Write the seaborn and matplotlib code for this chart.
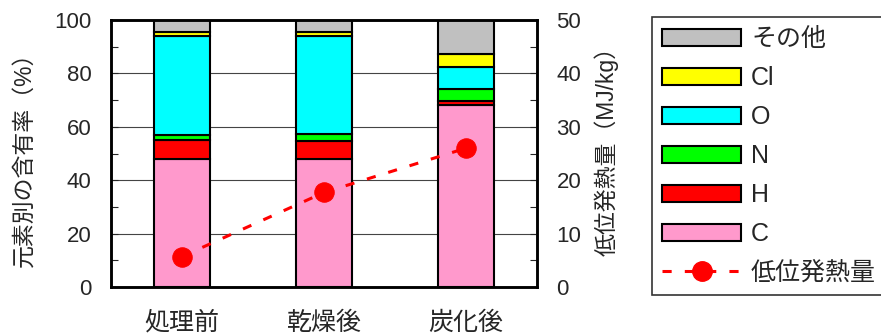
import numpy as np
import pandas as pd
import matplotlib
matplotlib.use("Agg")
import matplotlib.pyplot as plt
import seaborn as sns
from matplotlib.patches import Patch
from matplotlib.lines import Line2D
from matplotlib.ticker import MultipleLocator, FixedLocator

# --- data -------------------------------------------------------------
categories = ["処理前", "乾燥後", "炭化後"]
elements = ["C", "H", "N", "O", "Cl", "その他"]
c_pct = [48.0, 48.0, 68.3]
h_pct = [7.0, 6.5, 1.5]
n_pct = [2.1, 2.7, 4.3]
o_pct = [37.0, 36.9, 8.3]
cl_pct = [1.5, 1.5, 4.9]
other_pct = [4.4, 4.4, 12.7]
lhv_mj_kg = [5.7, 17.7, 26.0]
element_colors = ["#FF99CC", "#FF0000", "#00FF00", "#00FFFF", "#FFFF00", "#C0C0C0"]
lhv_label = "低位発熱量"

composition = pd.DataFrame(
    {"C": c_pct, "H": h_pct, "N": n_pct, "O": o_pct, "Cl": cl_pct, "その他": other_pct},
    index=categories,
)

# --- style ------------------------------------------------------------
sns.set_style("white")
plt.rcParams["font.family"] = ["Liberation Sans", "Noto Sans CJK JP", "DejaVu Sans"]
plt.rcParams["font.size"] = 16

fig = plt.figure(figsize=(8.81, 3.36), dpi=100)
ax = fig.add_axes([111 / 881, 1 - 287 / 336, 426 / 881, 267 / 336])

# stacked element bars
bottom = np.zeros(len(categories))
for el, col in zip(elements, element_colors):
    vals = composition[el].to_numpy()
    sns.barplot(x=categories, y=vals, order=categories, bottom=bottom,
                color=col, saturation=1, edgecolor="black", linewidth=1.5,
                width=0.394, errorbar=None, ax=ax, zorder=3)
    bottom = bottom + vals

ax.set_xlim(-0.5, len(categories) - 0.5)
ax.set_ylim(0, 100)
ax.yaxis.set_major_locator(MultipleLocator(20))
ax.yaxis.set_minor_locator(MultipleLocator(10))
ax.xaxis.set_major_locator(FixedLocator(range(len(categories))))
ax.set_xticklabels(categories, fontsize=18)
ax.xaxis.set_minor_locator(FixedLocator([0.5, 1.5]))
ax.grid(axis="y", which="major", color="#444444", linewidth=0.8, zorder=0)
ax.set_axisbelow(True)
ax.tick_params(axis="x", which="major", length=0, pad=17)
ax.tick_params(axis="x", which="minor", direction="in", length=5, width=0.8)
ax.tick_params(axis="y", which="both", direction="in", length=5, width=0.8,
               pad=14, labelsize=16)
ax.set_ylabel("元素別の含有率（%）", fontsize=16.5)
ax.yaxis.set_label_coords(-0.178, 0.5)
ax.set_xlabel("")
for sp in ax.spines.values():
    sp.set_linewidth(1.8)
    sp.set_color("black")
    sp.set_zorder(5)

# lower heating value on the secondary axis
ax2 = ax.twinx()
sns.lineplot(x=categories, y=lhv_mj_kg, sort=False, ax=ax2, color="#FF0000",
             linewidth=2.2, marker="o", markersize=14, markeredgecolor="#FF0000",
             zorder=6)
line = ax2.get_lines()[0]
line.set_dashes((3, 4.3))
ax2.set_ylim(0, 50)
ax2.set_xlim(-0.5, len(categories) - 0.5)
ax2.yaxis.set_major_locator(MultipleLocator(10))
ax2.yaxis.set_minor_locator(MultipleLocator(5))
ax2.tick_params(axis="y", which="both", direction="in", length=5, width=0.8,
                pad=14, labelsize=16)
ax2.set_ylabel("低位発熱量（MJ/kg）", fontsize=16.5)
ax2.yaxis.set_label_coords(1.134, 0.53)
for sp in ax2.spines.values():
    sp.set_linewidth(1.8)
    sp.set_color("black")

# legend: elements top-down, then the heating value line
handles = [Patch(facecolor=c, edgecolor="black", linewidth=1.5, label=e)
           for e, c in zip(elements[::-1], element_colors[::-1])]
handles.append(Line2D([0], [0], color="#FF0000", linewidth=2.2, marker="o",
                      markersize=14, dashes=(3, 4.3), label=lhv_label))
leg = fig.legend(handles=handles, loc="upper left",
                 bbox_to_anchor=(652 / 881, 1 - 17 / 336), borderaxespad=0,
                 frameon=True, fancybox=False, edgecolor="black", fontsize=18,
                 handlelength=3.16, handleheight=0.68, handletextpad=0.4,
                 labelspacing=0.6, borderpad=0.4)
leg.get_frame().set_linewidth(1.2)

fig.savefig("out.png", dpi=100)
